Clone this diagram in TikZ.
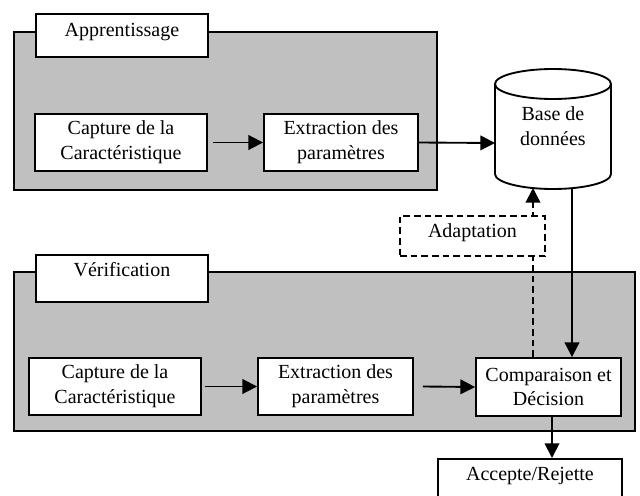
\documentclass[tikz,border=0pt]{standalone}
\usepackage{fontspec}
\setmainfont{Liberation Serif}
\usetikzlibrary{arrows.meta}
\definecolor{panelgray}{RGB}{192,192,192}
\begin{document}
\begin{tikzpicture}[x=0.75pt,y=-0.75pt,
  every node/.style={font=\fontsize{15}{18.5}\selectfont},
  panel/.style={draw, line width=1.5pt, fill=panelgray},
  box/.style={draw, line width=1.4pt, fill=white, align=center, inner sep=0pt},
  tagbox/.style={box, anchor=north west},
  arr/.style={line width=1.4pt, -{Triangle[length=11pt,width=11pt]}}]
\useasboundingbox (0,0) rectangle (640,496);
\clip (0,0) rectangle (640,496);
\fill[white] (0,0) rectangle (640,496);

% panels
\draw[panel] (14,32) rectangle (437,190);
\draw[panel] (14,272) rectangle (635,431);

% Apprentissage
\node[tagbox, minimum width=129pt, text height=17.25pt, text depth=15pt] (apL) at (35,13) {Apprentissage};
\node[box, minimum width=129pt, minimum height=42.75pt] (capA) at (121,142.5) {Capture de la\\Caractéristique};
\node[box, minimum width=115.5pt, minimum height=42.75pt] (extA) at (341,142.5) {Extraction des\\paramètres};

% database cylinder
\draw[line width=1.4pt, fill=white] (495,84) -- (495,174)
  arc[start angle=180, end angle=360, x radius=43.5pt, y radius=11.25pt]
  -- (611,84)
  arc[start angle=0, end angle=180, x radius=43.5pt, y radius=11.25pt] -- cycle;
\draw[line width=1.4pt] (611,84) arc[start angle=0, end angle=-180, x radius=43.5pt, y radius=11.25pt];
\node[align=center, inner sep=0pt] (db) at (553,126) {Base de\\données};
\coordinate (dbW) at (495,143);
\coordinate (dbB1) at (533,188);
\coordinate (dbB2) at (572,188);

% Verification
\node[tagbox, minimum width=129pt, text height=16.5pt, text depth=18.75pt] (verL) at (35,254) {Vérification};
\node[box, minimum width=129pt, minimum height=42.75pt] (capV) at (115,386.5) {Capture de la\\Caractéristique};
\node[box, minimum width=116.25pt, minimum height=42.75pt] (extV) at (335.5,386.5) {Extraction des\\paramètres};
\node[box, minimum width=108.75pt, minimum height=43.5pt] (cmp) at (548.5,387) {Comparaison et\\Décision};
\node[tagbox, minimum width=138pt, text height=16.5pt, text depth=30pt] (acc) at (437,458) {Accepte/Rejette};
\coordinate (accX) at (552,0);

% dashed adaptation path
\draw[arr, dash pattern=on 5pt off 3pt] (cmp.north -| dbB1) -- (dbB1);
\node[tagbox, dash pattern=on 5pt off 3pt, minimum width=108.75pt, text height=16.5pt, text depth=13.5pt] (adapt) at (399,215) {Adaptation};

% arrows
\draw[arr] ([xshift=3.75pt]capA.east) -- (extA.west);
\draw[arr] (extA.east) -- (dbW);
\draw[arr] ([xshift=2.25pt]capV.east) -- (extV.west);
\draw[arr] ([xshift=6.75pt]extV.east) -- (cmp.west);
\draw[arr] (dbB2) -- (cmp.north -| dbB2);
\draw[arr] (cmp.south -| accX) -- (acc.north -| accX);
\end{tikzpicture}
\end{document}
